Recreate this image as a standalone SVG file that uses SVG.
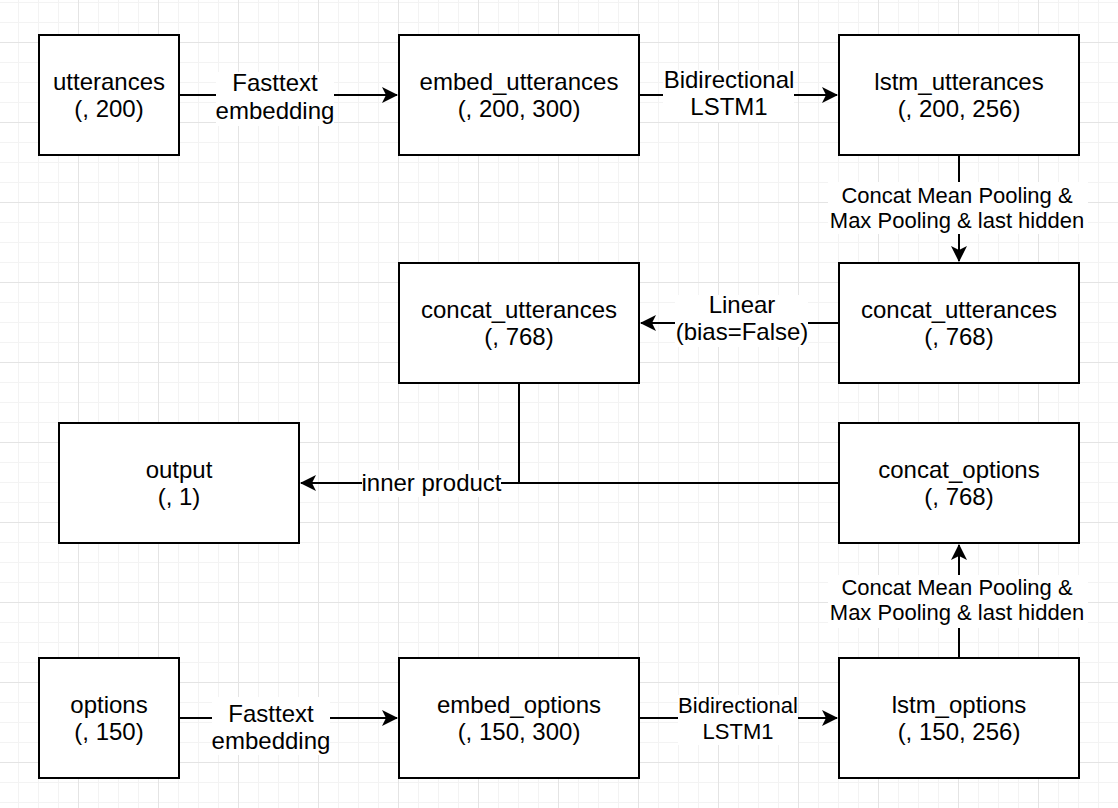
<svg xmlns="http://www.w3.org/2000/svg" width="1118" height="808" viewBox="0 0 1118 808">
  <defs>
    <pattern id="gridMinor" patternUnits="userSpaceOnUse" x="18" y="2" width="20" height="20">
      <path d="M0.5,0 V20 M0,0.5 H20" fill="none" stroke="#f3f3f3" stroke-width="1"/>
    </pattern>
    <pattern id="gridMajor" patternUnits="userSpaceOnUse" x="78" y="42" width="80" height="80">
      <path d="M0.5,0 V80 M0,0.5 H80" fill="none" stroke="#e4e4e4" stroke-width="1"/>
    </pattern>
    <marker id="arrow" viewBox="0 0 16 16" refX="15" refY="8" markerWidth="16" markerHeight="16" markerUnits="userSpaceOnUse" orient="auto">
      <path d="M0,0 L16,8 L0,16 L4,8 Z" fill="#000"/>
    </marker>
    <style>
      .box { fill: #ffffff; stroke: #000000; stroke-width: 2; }
      .edge { fill: none; stroke: #000000; stroke-width: 2; }
      .lblbg { fill: #ffffff; }
      text { font-family: "Liberation Sans", Arial, Helvetica, sans-serif; fill: #000000; text-anchor: middle; }
      .t24 { font-size: 24px; }
      .t22 { font-size: 22px; }
    </style>
  </defs>

  <rect x="0" y="0" width="1118" height="808" fill="#ffffff"/>
  <rect x="0" y="0" width="1118" height="808" fill="url(#gridMinor)"/>
  <rect x="0" y="0" width="1118" height="808" fill="url(#gridMajor)"/>

  <g id="connectors">
    <path class="edge" d="M179,95 H397" marker-end="url(#arrow)"/>
    <path class="edge" d="M639,95 H837" marker-end="url(#arrow)"/>
    <path class="edge" d="M959,155 V261" marker-end="url(#arrow)"/>
    <path class="edge" d="M839,323 H641" marker-end="url(#arrow)"/>
    <path class="edge" d="M519,383 V483"/>
    <path class="edge" d="M839,483 H301" marker-end="url(#arrow)"/>
    <path class="edge" d="M959,658 V545" marker-end="url(#arrow)"/>
    <path class="edge" d="M179,718 H397" marker-end="url(#arrow)"/>
    <path class="edge" d="M639,718 H837" marker-end="url(#arrow)"/>

    <g id="label-fasttext-top">
      <rect class="lblbg" x="216" y="72" width="118" height="54"/>
      <text class="t24" x="275" y="91">Fasttext</text>
      <text class="t24" x="275" y="119">embedding</text>
    </g>
    <g id="label-bilstm-top">
      <rect class="lblbg" x="663" y="70" width="131" height="52"/>
      <text class="t24" x="729" y="88">Bidirectional</text>
      <text class="t24" x="729" y="115">LSTM1</text>
    </g>
    <g id="label-concat-top">
      <rect class="lblbg" x="828" y="182" width="260" height="52"/>
      <text class="t22" x="957" y="203">Concat Mean Pooling &amp;</text>
      <text class="t22" x="957" y="228">Max Pooling &amp; last hidden</text>
    </g>
    <g id="label-linear">
      <rect class="lblbg" x="675" y="295" width="133" height="52"/>
      <text class="t24" x="742" y="313">Linear</text>
      <text class="t24" x="742" y="340">(bias=False)</text>
    </g>
    <g id="label-inner">
      <rect class="lblbg" x="362" y="470" width="139" height="27"/>
      <text class="t24" x="431.5" y="491">inner product</text>
    </g>
    <g id="label-concat-bottom">
      <rect class="lblbg" x="828" y="575" width="260" height="53"/>
      <text class="t22" x="957" y="595">Concat Mean Pooling &amp;</text>
      <text class="t22" x="957" y="620">Max Pooling &amp; last hidden</text>
    </g>
    <g id="label-fasttext-bottom">
      <rect class="lblbg" x="212" y="697" width="118" height="58"/>
      <text class="t24" x="271" y="722">Fasttext</text>
      <text class="t24" x="271" y="749">embedding</text>
    </g>
    <g id="label-bilstm-bottom">
      <rect class="lblbg" x="678" y="695" width="120" height="50"/>
      <text class="t22" x="738" y="713">Bidirectional</text>
      <text class="t22" x="738" y="739">LSTM1</text>
    </g>
  </g>

  <g id="utterances">
    <rect class="box" x="39" y="35" width="140" height="120"/>
    <text class="t24" x="109" y="90">utterances</text>
    <text class="t24" x="109" y="117">(, 200)</text>
  </g>
  <g id="embed_utterances">
    <rect class="box" x="399" y="35" width="240" height="120"/>
    <text class="t24" x="519" y="90">embed_utterances</text>
    <text class="t24" x="519" y="117">(, 200, 300)</text>
  </g>
  <g id="lstm_utterances">
    <rect class="box" x="839" y="35" width="240" height="120"/>
    <text class="t24" x="959" y="90">lstm_utterances</text>
    <text class="t24" x="959" y="117">(, 200, 256)</text>
  </g>
  <g id="concat_utterances_right">
    <rect class="box" x="839" y="263" width="240" height="120"/>
    <text class="t24" x="959" y="318">concat_utterances</text>
    <text class="t24" x="959" y="345">(, 768)</text>
  </g>
  <g id="concat_utterances_left">
    <rect class="box" x="399" y="263" width="240" height="120"/>
    <text class="t24" x="519" y="318">concat_utterances</text>
    <text class="t24" x="519" y="345">(, 768)</text>
  </g>
  <g id="output">
    <rect class="box" x="59" y="423" width="240" height="120"/>
    <text class="t24" x="179" y="478">output</text>
    <text class="t24" x="179" y="505">(, 1)</text>
  </g>
  <g id="concat_options">
    <rect class="box" x="839" y="423" width="240" height="120"/>
    <text class="t24" x="959" y="478">concat_options</text>
    <text class="t24" x="959" y="505">(, 768)</text>
  </g>
  <g id="options">
    <rect class="box" x="39" y="658" width="140" height="120"/>
    <text class="t24" x="109" y="713">options</text>
    <text class="t24" x="109" y="740">(, 150)</text>
  </g>
  <g id="embed_options">
    <rect class="box" x="399" y="658" width="240" height="120"/>
    <text class="t24" x="519" y="713">embed_options</text>
    <text class="t24" x="519" y="740">(, 150, 300)</text>
  </g>
  <g id="lstm_options">
    <rect class="box" x="839" y="658" width="240" height="120"/>
    <text class="t24" x="959" y="713">lstm_options</text>
    <text class="t24" x="959" y="740">(, 150, 256)</text>
  </g>
</svg>
